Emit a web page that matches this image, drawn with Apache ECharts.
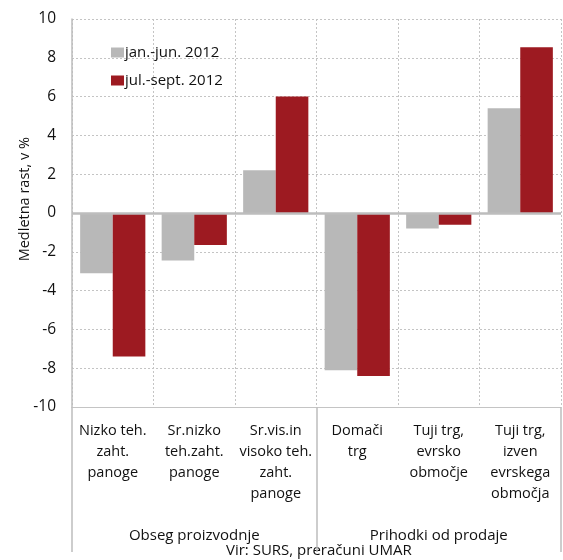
<!DOCTYPE html>
<html>
<head>
<meta charset="utf-8">
<script src="https://cdn.jsdelivr.net/npm/echarts@6/dist/echarts.min.js"></script>
<style>html,body{margin:0;padding:0;background:#fff}#c{width:563px;height:560px}</style>
</head>
<body>
<div id="c"></div>
<script>
var categories = ['Nizko teh.\nzaht.\npanoge', 'Sr.nizko\nteh.zaht.\npanoge', 'Sr.vis.in\nvisoko teh.\nzaht.\npanoge', 'Domači\ntrg', 'Tuji trg,\nevrsko\nobmočje', 'Tuji trg,\nizven\nevrskega\nobmočja'];
var groups = ['Obseg proizvodnje', 'Prihodki od prodaje'];
var seriesNames = ['jan.-jun. 2012', 'jul.-sept. 2012'];
var janJun = [-3.1, -2.45, 2.2, -8.1, -0.8, 5.4];
var julSept = [-7.4, -1.65, 6.0, -8.4, -0.6, 8.55];
var yTicks = {min: -10, max: 10, interval: 2};
var yAxisName = 'Medletna rast, v %';
var sourceText = 'Vir: SURS, preračuni UMAR';

var FONT = 'Open Sans';
var chart = echarts.init(document.getElementById('c'));
chart.setOption({
  animation: false,
  textStyle: {fontFamily: FONT},
  grid: {left: 72, right: 2, top: 19, bottom: 153},
  legend: {
    data: seriesNames, orient: 'vertical', left: 106, top: 40, itemGap: 13,
    itemWidth: 13, itemHeight: 10, icon: 'rect',
    textStyle: {fontFamily: FONT, fontSize: 15, color: '#111', padding: [0,0,0,-4]}
  },
  xAxis: [
    {
      type: 'category', data: categories, position: 'bottom',
      axisLine: {show: true, onZero: false, lineStyle: {color: '#c4c4c4', width: 1}},
      axisTick: {show: false},
      splitLine: {show: true, interval: 0, lineStyle: {color: '#c4c4c4', type: [2, 2], width: 1}},
      axisLabel: {interval: 0, margin: 13, fontSize: 14.5, lineHeight: 21, color: '#111', fontFamily: FONT}
    },
    {
      type: 'category', data: groups, position: 'bottom', gridIndex: 0,
      axisLine: {show: false, onZero: false},
      axisTick: {show: true, interval: 0, length: 145, lineStyle: {color: '#bdbdbd', width: 1.5}},
      axisLabel: {interval: 0, margin: 121, fontSize: 15, color: '#111', fontFamily: FONT},
      splitLine: {show: false}
    }
  ],
  yAxis: {
    type: 'value', min: yTicks.min, max: yTicks.max, interval: yTicks.interval,
    axisLine: {show: true, lineStyle: {color: '#bdbdbd', width: 1.5}},
    axisTick: {show: false},
    axisLabel: {margin: 16, fontSize: 15.5, color: '#111', fontFamily: FONT},
    splitLine: {show: true, lineStyle: {color: '#c4c4c4', type: [2, 2], width: 1}}
  },
  graphic: [
    {type: 'text', left: 17, top: 137, rotation: Math.PI / 2,
     style: {text: yAxisName, fontSize: 14.5, fontFamily: FONT, fill: '#111'}},
    {type: 'text', left: 226, top: 543,
     style: {text: sourceText, fontSize: 15, fontFamily: FONT, fill: '#111'}}
  ],
  series: [
    {name: seriesNames[0], type: 'bar', data: janJun, barGap: '0%', barCategoryGap: '20%',
     itemStyle: {color: '#b8b8b8'},
     markLine: {silent: true, symbol: 'none', label: {show: false},
       lineStyle: {color: '#bdbdbd', type: 'solid', width: 2.5}, data: [{yAxis: 0}]}},
    {name: seriesNames[1], type: 'bar', data: julSept, itemStyle: {color: '#9d1a21'}}
  ]
});
</script>
</body>
</html>
